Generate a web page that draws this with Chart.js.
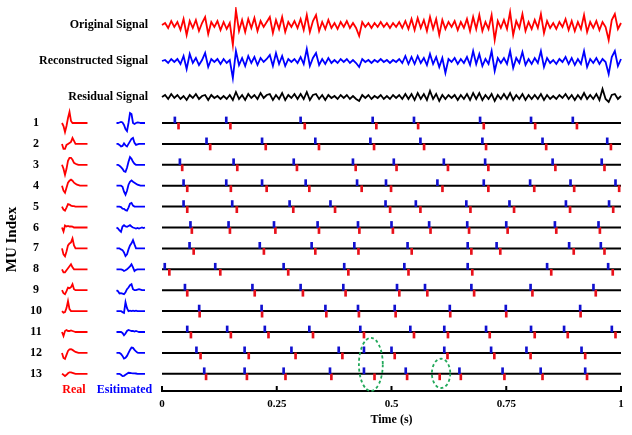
<!DOCTYPE html>
<html>
<head>
<meta charset="utf-8">
<script src="https://cdn.jsdelivr.net/npm/chart.js@4.4.1/dist/chart.umd.min.js"></script>
<style>
  html, body { margin: 0; padding: 0; background: #fff; }
  #wrap { position: relative; width: 632px; height: 435px; overflow: hidden; }
  #sigChart { position: absolute; left: 0; top: 7px; }
  #muChart { position: absolute; left: 0; top: 88px; }
</style>
</head>
<body>
<div id="wrap">
  <canvas id="sigChart" width="632" height="108"></canvas>
  <canvas id="muChart" width="632" height="347"></canvas>
</div>
<script>
// Signals (amplitude, arbitrary units)
const signalNames = ['Original Signal', 'Reconstructed Signal', 'Residual Signal']

const originalSignal = [
  0, 2, -3, 4, -2, 3, -5, 6, -10, 4,
  -3, 5, -6, 2, 8, -9, 3, -2, 4, -5,
  3, -4, 2, -20, 15, -6, 5, -7, 6, -3,
  7, -6, 4, -2, 3, 8, -8, 5, -4, 8,
  -7, 3, -2, 4, -3, 6, -5, 10, -7, 4,
  10, -6, 3, -4, 5, -3, 2, -4, 3, -2,
  4, -3, 2, -3, -11, 3, -2, 2, -3, 2,
  -2, 3, -2, 2, -3, 2, -2, 3, -3, 4,
  -4, 6, -5, 7, -3, 5, -6, 8, -4, 6,
  -10, 5, -4, 3, -2, 4, -5, 3, -3, 6,
  -6, 8, -4, 10, -6, 3, -4, 10, -15, 4,
  -3, 5, -4, 13, -10, 4, -3, 11, -6, 3,
  -4, 5, -3, 11, -8, 4, -3, 2, -4, 3,
  -2, 6, -5, 4, -6, 3, -4, 10, -7, 3,
  -3, 4, -5, 3, -2, -15, 5, 11, -4, 2,
]

const reconstructedSignal = [
  0, 1, -2, 2, -1, 2, -3, 5, -8, 7,
  -2, 3, -4, 1, 8, -6, 2, -1, 2, -3,
  2, -2, 1, -17, 10, -4, 3, -5, 5, -2,
  4, -4, 3, -1, 2, 6, -5, 8, -3, 5,
  -5, 2, -1, 2, -2, 4, -3, 12, -5, 3,
  8, -4, 2, -3, 3, -2, 1, -2, 2, -1,
  2, -2, 1, -2, -6, 2, -1, 1, -2, 1,
  -1, 2, -1, 1, -2, 1, -1, 2, -2, 5,
  -3, 4, -3, 5, -2, 3, -4, 7, -3, 4,
  -6, 3, -12, 2, -1, 3, -3, 2, -2, 4,
  -4, 10, -3, 7, -5, 2, -3, 10, -10, 3,
  -2, 3, -3, 10, -7, 3, -2, 9, -4, 2,
  -3, 3, -2, 10, -6, 3, -2, 1, -3, 2,
  -1, 4, -3, 3, -4, 2, -3, 10, -6, 2,
  -2, 3, -3, 2, -1, -13, 4, 10, -5, 2,
]

const residualSignal = [
  0, 2, -2, 3, -1, 2, -2, 1, -3, 2,
  -1, 3, -2, 1, 2, -3, 2, -1, 1, -2,
  1, -2, 2, -3, 5, -2, 2, -3, 3, -1,
  2, -2, 4, -1, 2, 3, -3, 2, -2, 4,
  -3, 2, -1, 3, -2, 3, -2, 5, -3, 2,
  3, -2, 2, -3, 2, -1, 1, -2, 2, -1,
  2, -2, 1, -2, -4, 2, -1, 2, -2, 1,
  -1, 2, -2, 1, -2, 2, -1, 2, -2, 3,
  -2, 3, -3, 4, -2, 3, -3, 6, -2, 3,
  -4, 2, -2, 2, -1, 2, -3, 2, -2, 3,
  -3, 4, -2, 4, -3, 2, -2, 3, -4, 2,
  -2, 3, -2, 4, -3, 2, -2, 3, -3, 2,
  -2, 2, -2, 3, -3, 2, -2, 1, -2, 2,
  -1, 3, -2, 2, -3, 2, -2, 4, -2, 2,
  -2, 3, -3, 8, -2, -5, 2, 3, -2, 1,
]

// Motor units
const muIndex = [1, 2, 3, 4, 5, 6, 7, 8, 9, 10, 11, 12, 13]
const timeTicks = [0, 0.25, 0.5, 0.75, 1]

// estimated firing times (s), blue
const estSpikes = [
  [0.028, 0.140, 0.302, 0.459, 0.549, 0.693, 0.804, 0.895],
  [0.097, 0.218, 0.334, 0.454, 0.563, 0.698, 0.829, 0.970],
  [0.039, 0.156, 0.287, 0.416, 0.505, 0.614, 0.704, 0.851, 0.958],
  [0.047, 0.140, 0.218, 0.313, 0.425, 0.488, 0.600, 0.701, 0.802, 0.890, 0.988],
  [0.047, 0.153, 0.278, 0.367, 0.487, 0.553, 0.663, 0.757, 0.880, 0.974],
  [0.062, 0.145, 0.244, 0.339, 0.427, 0.500, 0.582, 0.665, 0.750, 0.856, 0.951],
  [0.060, 0.213, 0.326, 0.419, 0.535, 0.666, 0.729, 0.887, 0.956],
  [0.006, 0.116, 0.265, 0.397, 0.528, 0.666, 0.839, 0.972],
  [0.050, 0.197, 0.302, 0.395, 0.512, 0.573, 0.674, 0.803, 0.940],
  [0.081, 0.217, 0.356, 0.427, 0.507, 0.627, 0.749, 0.911],
  [0.055, 0.142, 0.224, 0.321, 0.432, 0.541, 0.615, 0.706, 0.804, 0.876, 0.980],
  [0.075, 0.180, 0.282, 0.385, 0.440, 0.500, 0.615, 0.717, 0.794, 0.914],
  [0.092, 0.180, 0.265, 0.366, 0.440, 0.531, 0.648, 0.742, 0.825, 0.922],
]

// real firing times (s), red
const realSpikes = [
  [0.036, 0.149, 0.311, 0.467, 0.558, 0.701, 0.813, 0.904],
  [0.105, 0.226, 0.342, 0.462, 0.571, 0.706, 0.837, 0.978],
  [0.044, 0.164, 0.294, 0.422, 0.511, 0.623, 0.711, 0.857, 0.964],
  [0.055, 0.150, 0.228, 0.321, 0.435, 0.499, 0.611, 0.711, 0.811, 0.898, 0.996],
  [0.055, 0.163, 0.286, 0.377, 0.497, 0.563, 0.672, 0.767, 0.889, 0.983],
  [0.065, 0.148, 0.247, 0.342, 0.430, 0.503, 0.585, 0.669, 0.753, 0.859, 0.954],
  [0.069, 0.222, 0.334, 0.428, 0.544, 0.674, 0.737, 0.897, 0.964],
  [0.016, 0.127, 0.275, 0.406, 0.537, 0.676, 0.848, 0.982],
  [0.055, 0.202, 0.307, 0.400, 0.517, 0.578, 0.680, 0.807, 0.945],
  [0.082, 0.218, 0.358, 0.429, 0.509, 0.628, 0.750, 0.912],
  [0.063, 0.150, 0.232, 0.329, 0.440, 0.549, 0.623, 0.714, 0.812, 0.884, 0.988],
  [0.084, 0.189, 0.291, 0.393, 0.507, 0.622, 0.724, 0.803, 0.922],
  [0.096, 0.185, 0.269, 0.369, 0.463, 0.534, 0.605, 0.651, 0.746, 0.829, 0.926],
]

// MU action potential shapes (20 samples)
const realWaves = [
  [0, -3, -9, -3, 5, 11, 2, 0, 0, 0, 0, 0, 0, 0, 0, 0, 0, 0, 0, 0],
  [0, -5, -5, -1, 0, 1, 2, 6, 3, 0, 0, 0, 0, 0, 0, 0, 0, 0, 0, 0],
  [0, -4, -10, -4, 4, 7, 7, 5, 2, 1, 0.5, 0, 0, 0, 0, 0, 0, 0, 0, 0],
  [0, -5, -7, -2, 3, 5, 6, 5, 3, 2, 1, 0.5, 0, 0, 0, 0, 0, 0, 0, 0],
  [0, -3, -4, -1, 2.5, 2, 1, 0.5, 0.5, 0, 0, 0, 0, 0, 0, 0, 0, 0, 0, 0],
  [0, -4, 2, 1, 1.5, 1, 1.2, 0.8, 0, 0, 0, 0, 0, 0, 0, 0, 0, 0, 0, 0],
  [0, -6, -8, -3, 3, 5, 6, 10, 3, 0, 0, 0, 0, 0, 0, 0, 0, 0, 0, 0],
  [0, -3, -3, -1, 1, 3, 5, 2, 0, 0, 0, 0, 0, 0, 0, 0, 0, 0, 0, 0],
  [0, -3, -4, -1, 2.5, 2, 3, 6, 1, 0, 0, 0, 0, 0, 0, 0, 0, 0, 0, 0],
  [0, -1.5, -1, 3, 10, 2, 0, 0, 0, 0, 0, 0, 0, 0, 0, 0, 0, 0, 0, 0],
  [0, -4, 1, 2, 1, 1, 1.5, 1, 0.5, 0, 0, 0, 0, 0, 0, 0, 0, 0, 0, 0],
  [0, -5, -6, -2, 2, 3.5, 3.7, 3, 2, 1, 0.5, 0, 0, 0, 0, 0, 0, 0, 0, 0],
  [0, -1, -2.3, -1, 0.5, 1.5, 1.5, 1, 0.5, 0, 0, 0, 0, 0, 0, 0, 0, 0, 0, 0],
]

const estWaves = [
  [0, 0, 0.5, 1, 0.5, -2, -6, -8, 0, 10, 9, 0, -1, 0, 0.7, 0.5, 0, 0, 0, 0],
  [0, 0, -1, -2.5, -2, 0.5, -1.5, -2.5, 0, 2.5, 5, 6, 1, -1, -0.5, 0, 0, 0, 0, 0],
  [0, 0, -1, -2.3, -4, -6.5, -7, -3, 3, 7.7, 6, 3, 1, 0, 0, 0, 0, 0, 0, 0],
  [0, 0, 0, 0, -1, -6, -9, -5, 1, 4, 5.3, 4, 3, 2, 1, 0.5, 0, 0, 0, 0],
  [0, 0, 0, -0.5, -2, -2.3, -3.5, -4, -1, 3, 3.7, 1, 0, 0, 0, 0, 0, 0, 0, 0],
  [0, -1, -3, -4.3, 1, 2.3, 1, 0.7, 1.5, 2.3, 1, 0, -0.5, -1, -0.5, -1, -0.5, 0, -0.5, 0],
  [0, 0, 0, -1, -1.7, -4, -7.7, -6, -1, 3, 5, 8.3, 4, 0, 0, 0, 0, 0, 0, 0],
  [0, 0, 0, 0, -0.5, -1.7, -1, 0, 1.5, 3, 5, 2, -1.7, -0.5, 0, 0, 0, 0, 0, 0],
  [0, -1, -3.3, -3, -3.5, -4, -2, 1, 2.7, 5, 6, 1, 0, 0, 0.5, 1, 0.5, 0, 0, 0],
  [0, 0, 0, 0, -1, -1.7, 9, 3, 0, 0.5, 0, 0.5, 0, 0.5, 0, 0, 0, 0, 0, 0],
  [0, 0, 0, 0, -1, -3.3, -1.5, 1, 2, 1.5, 1, 1, 0.5, 1, 0.5, 0, 0, 0, 0, 0],
  [0, 0, 0, -1, -3, -5.7, -5, -3, 0, 3, 5.3, 5, 3, 1.5, 0.3, 0, 0, 0, 0, 0],
  [0, 0, 0, -1, -2.3, -2, -1, 0, 1, 0.8, 0.6, 0.5, 0.5, 0.3, 0, 0, 0, 0, 0, 0],
]

// dashed green marks: [time, mu, half width (s), half height (rows)]
const circled = [
  [0.455, 12.55, 0.026, 1.27],
  [0.608, 12.98, 0.020, 0.70],
]

const RED = '#ff0000'
const BLUE = '#0000ff'

Chart.defaults.font.family = "'Liberation Serif', 'Times New Roman', serif"
Chart.defaults.font.weight = 'bold'
Chart.defaults.color = '#000'
Chart.defaults.animation = false

// scales here get exact sizes and no automatic label padding
const fixSize = (w, h) => (s) => {
  if (w !== null) s.width = w
  if (h !== null) s.height = h
  s.paddingTop = 0
  s.paddingBottom = 0
  s.paddingLeft = 0
  s.paddingRight = 0
}

// ---------- top: the three signals ----------
const toPoints = (arr) => arr.map((v, i) => ({ x: i / (arr.length - 1), y: v }))

const signalAxis = (name) => ({
  type: 'linear',
  position: 'left',
  stack: 'signals',
  stackWeight: 1,
  min: -18,
  max: 18,
  grid: { display: false, drawTicks: false },
  border: { display: false },
  afterBuildTicks: (s) => { s.ticks = [{ value: 0 }] },
  ticks: { padding: 14, font: { size: 12 }, callback: () => name },
  afterFit: fixSize(162, null),
})

new Chart(document.getElementById('sigChart'), {
  type: 'line',
  data: {
    datasets: [
      { data: toPoints(originalSignal), borderColor: RED, yAxisID: 'yO' },
      { data: toPoints(reconstructedSignal), borderColor: BLUE, yAxisID: 'yR' },
      { data: toPoints(residualSignal), borderColor: '#000', yAxisID: 'yE' },
    ].map(d => ({ ...d, xAxisID: 'x', borderWidth: 1.8, pointRadius: 0, clip: false })),
  },
  options: {
    responsive: false,
    events: [],
    layout: { autoPadding: false, padding: { right: 11 } },
    plugins: { legend: { display: false }, tooltip: { enabled: false } },
    scales: {
      x: { type: 'linear', min: 0, max: 1, display: false, afterFit: fixSize(null, 0) },
      yE: signalAxis(signalNames[2]),
      yR: signalAxis(signalNames[1]),
      yO: signalAxis(signalNames[0]),
    },
  },
})

// ---------- bottom: MU waveforms + firing raster ----------
const tickH = 0.29      // spike mark height in rows
const waveGain = 1 / 20.9

const baselines = muIndex.map(k => ({
  type: 'line',
  data: [{ x: 0, y: k }, { x: 1, y: k }],
  borderColor: '#000',
  borderWidth: 2,
  pointRadius: 0,
  xAxisID: 'x',
  yAxisID: 'y',
  order: 2,
}))

const spikeBars = (rows, color, up) => ({
  type: 'bar',
  data: rows.flatMap((ts, r) => ts.map(t => ({
    x: t,
    y: up ? [muIndex[r] - tickH, muIndex[r]] : [muIndex[r], muIndex[r] + tickH],
  }))),
  backgroundColor: color,
  borderWidth: 0,
  barThickness: 2,
  grouped: false,
  xAxisID: 'x',
  yAxisID: 'y',
  order: 0,
})

const waveLines = (waves, color, axis) => waves.map((w, r) => ({
  type: 'line',
  data: w.map((a, i) => ({ x: i, y: muIndex[r] - a * waveGain })),
  borderColor: color,
  borderWidth: 1.8,
  pointRadius: 0,
  xAxisID: axis,
  yAxisID: 'y',
  clip: false,
  order: 1,
}))

const innerTicks = {
  id: 'innerTicks',
  afterDraw(chart) {
    const s = chart.scales.x
    const ctx = chart.ctx
    ctx.save()
    ctx.strokeStyle = '#000'
    ctx.lineWidth = 2
    s.ticks.forEach(t => {
      const px = s.getPixelForValue(t.value)
      ctx.beginPath()
      ctx.moveTo(px, s.top)
      ctx.lineTo(px, s.top - 5)
      ctx.stroke()
    })
    ctx.restore()
  },
}

const ellipses = {
  id: 'ellipses',
  afterDatasetsDraw(chart) {
    const { x, y } = chart.scales
    const ctx = chart.ctx
    ctx.save()
    ctx.strokeStyle = '#22a85a'
    ctx.lineWidth = 1.8
    ctx.setLineDash([3, 2.5])
    circled.forEach(([t, mu, dt, dm]) => {
      const cx = x.getPixelForValue(t)
      const cy = y.getPixelForValue(mu)
      const rx = x.getPixelForValue(t + dt) - cx
      const ry = Math.abs(y.getPixelForValue(mu + dm) - cy)
      ctx.beginPath()
      ctx.ellipse(cx, cy, rx, ry, 0, 0, Math.PI * 2)
      ctx.stroke()
    })
    ctx.restore()
  },
}

const hiddenX = (weight, min, max, title, color) => ({
  type: 'linear',
  position: 'bottom',
  stack: 'bottom',
  stackWeight: weight,
  offset: false,
  min,
  max,
  grid: { display: false, drawTicks: false },
  border: { display: false },
  ticks: { display: false },
  title: { display: true, text: title, color, font: { size: 12 }, padding: { top: 0, bottom: 38 } },
  afterFit: fixSize(null, 44),
})

new Chart(document.getElementById('muChart'), {
  type: 'line',
  data: {
    datasets: [
      spikeBars(estSpikes, '#1010d0', true),
      spikeBars(realSpikes, '#e8101a', false),
      ...baselines,
      ...waveLines(realWaves, RED, 'xr'),
      ...waveLines(estWaves, BLUE, 'xe'),
    ],
  },
  options: {
    responsive: false,
    events: [],
    layout: { autoPadding: false, padding: { right: 11 } },
    plugins: { legend: { display: false }, tooltip: { enabled: false } },
    scales: {
      xr: hiddenX(26, -0.667, 16.667, 'Real', RED),
      xe: hiddenX(75, -19.667, 30.333, 'Esitimated', BLUE),
      x: {
        type: 'linear',
        position: 'bottom',
        stack: 'bottom',
        stackWeight: 459,
        offset: false,
        min: 0,
        max: 1,
        grid: { drawOnChartArea: false, drawTicks: false },
        border: { display: true, color: '#000', width: 2 },
        afterBuildTicks: (s) => { s.ticks = timeTicks.map(v => ({ value: v })) },
        ticks: { font: { size: 11 }, padding: 7, maxRotation: 0, autoSkip: false, callback: (v) => String(v) },
        title: { display: true, text: 'Time (s)', font: { size: 12 }, padding: { top: 0, bottom: 8 } },
        afterFit: fixSize(null, 44),
      },
      y: {
        type: 'linear',
        position: 'left',
        reverse: true,
        min: -0.675,
        max: 13.823,
        grid: { display: false, drawTicks: false },
        border: { display: false },
        afterBuildTicks: (s) => { s.ticks = muIndex.map(v => ({ value: v })) },
        ticks: { font: { size: 12 }, crossAlign: 'center', padding: 19 },
        title: { display: true, text: 'MU Index', font: { size: 15 }, padding: { top: 3, bottom: 0 } },
        afterFit: fixSize(61, null),
      },
    },
  },
  plugins: [innerTicks, ellipses],
})
</script>
</body>
</html>
